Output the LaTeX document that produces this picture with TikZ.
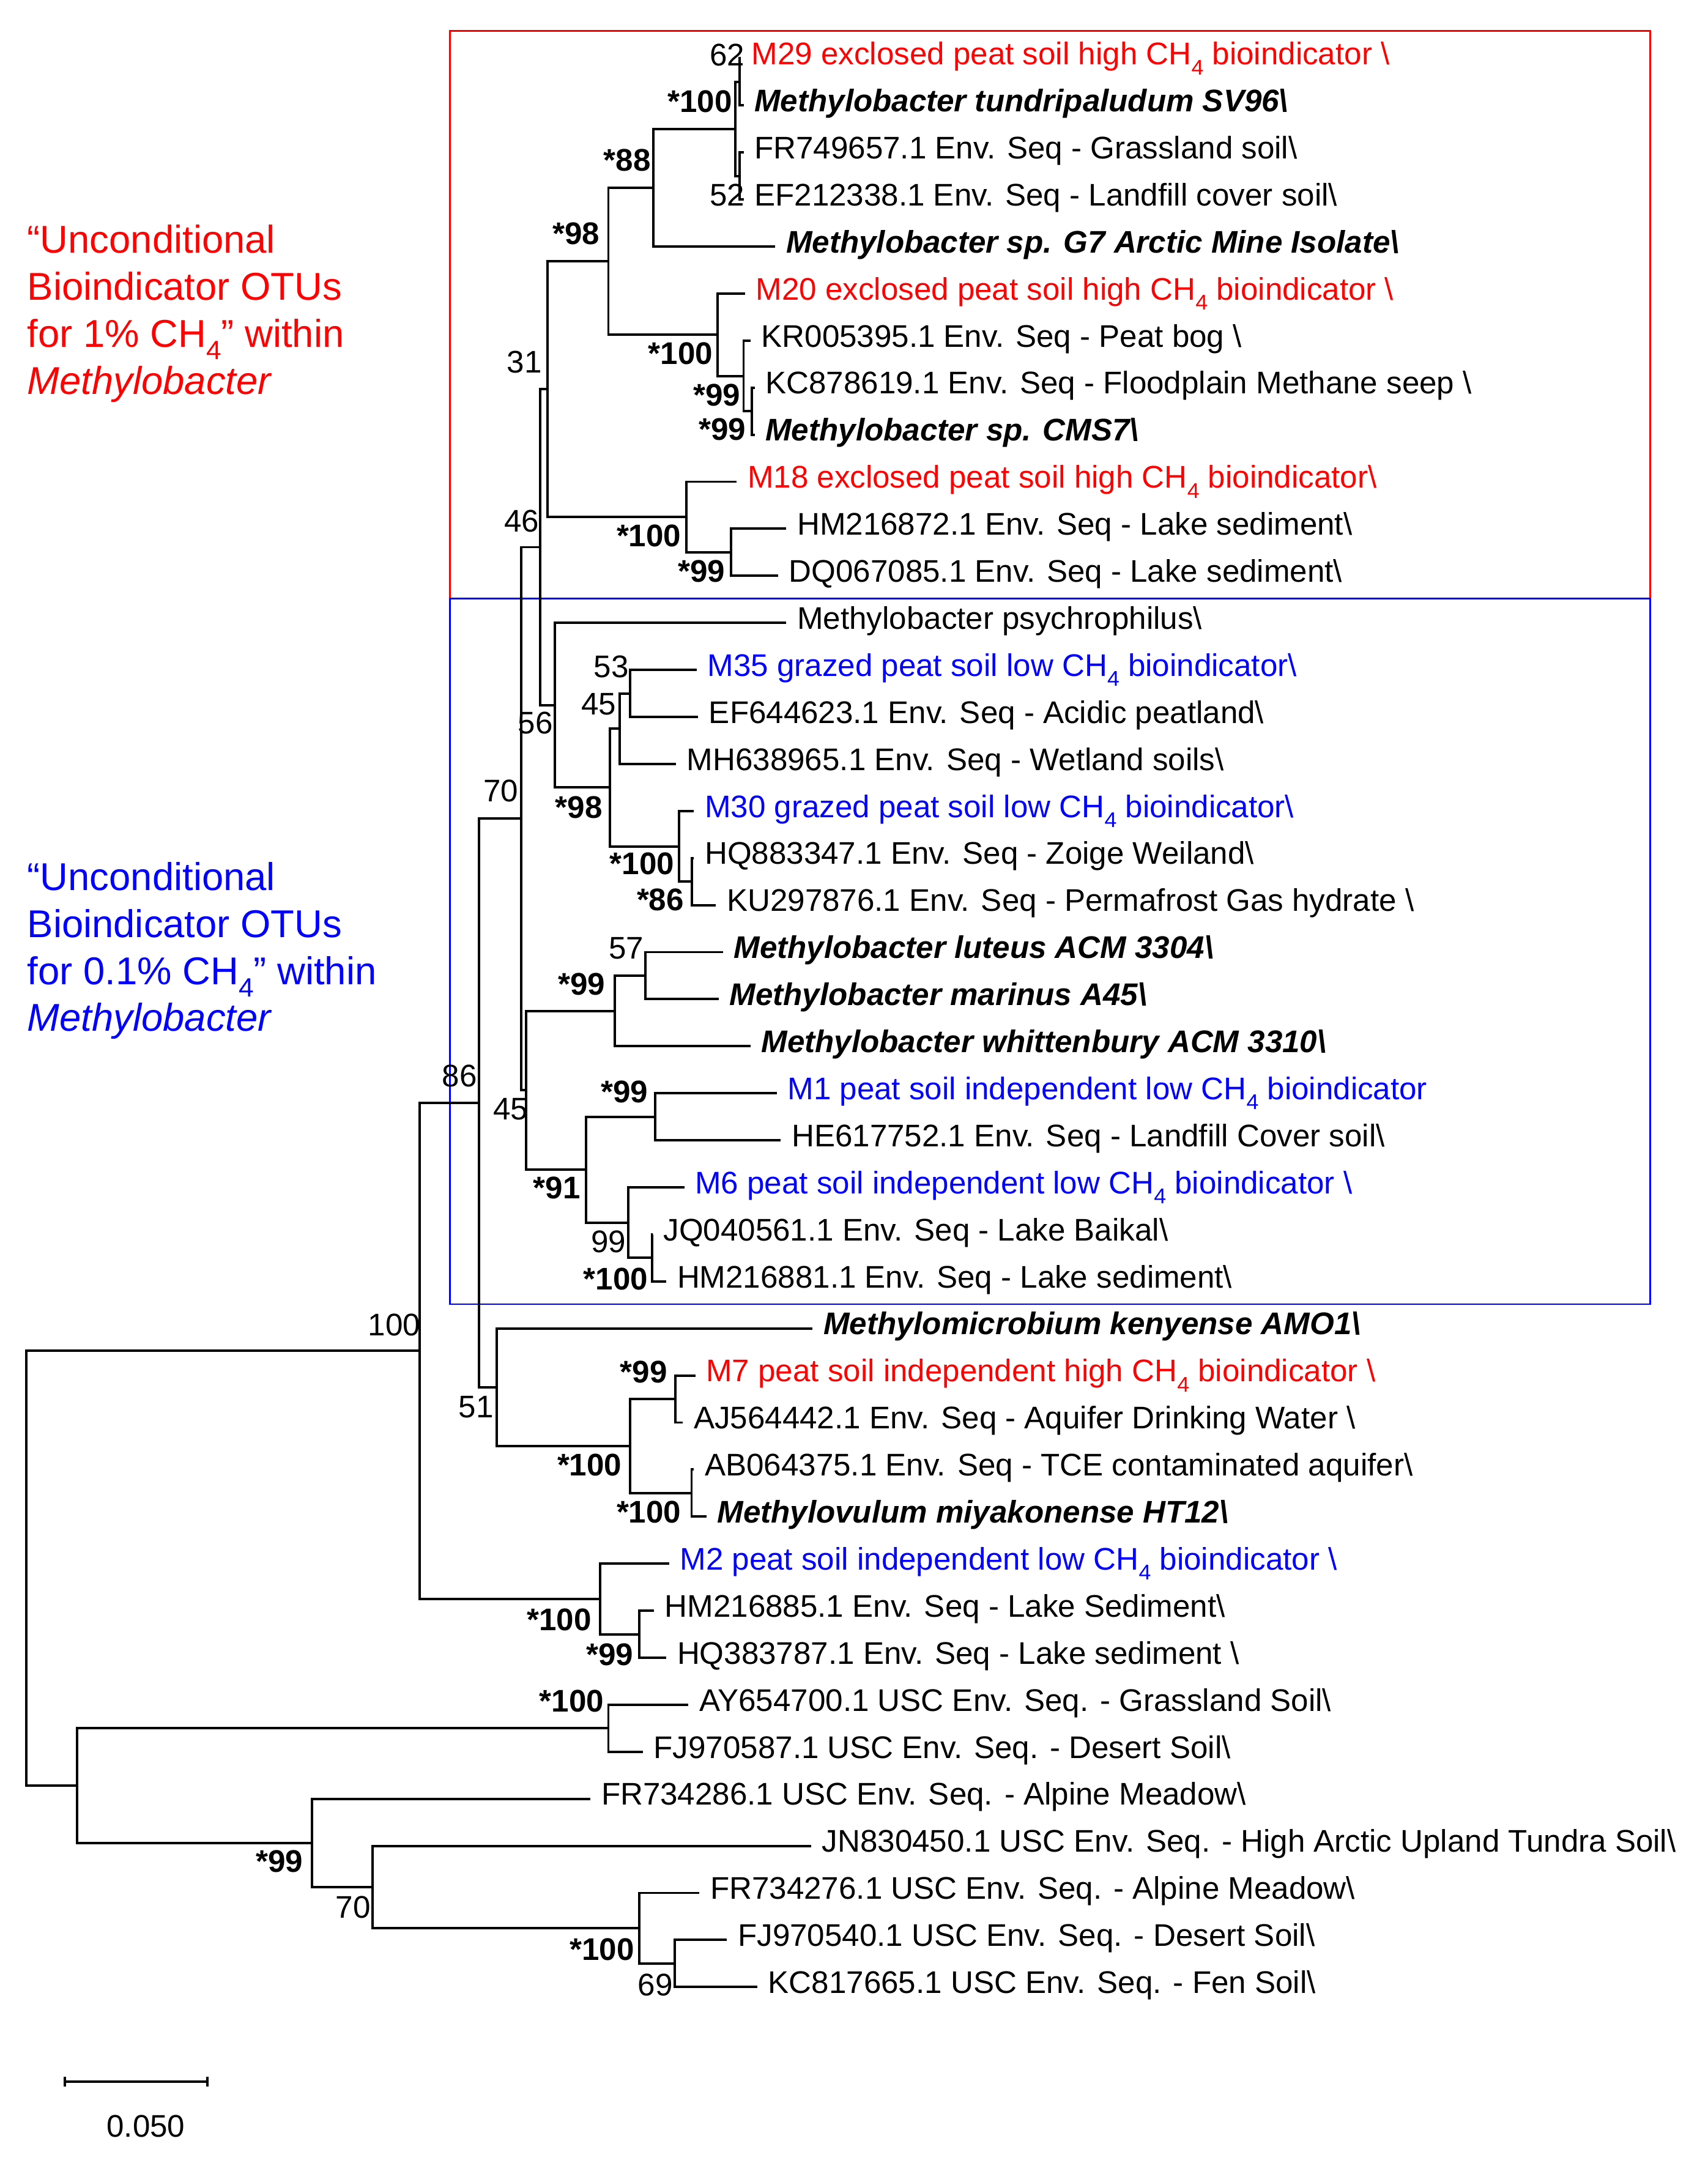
\documentclass[tikz,border=0pt]{standalone}
\usepackage{fontspec}
\usepackage{graphicx}
\setmainfont{Liberation Sans}
\usetikzlibrary{calc}

\definecolor{hiCH}{RGB}{255,0,0}
\definecolor{loCH}{RGB}{0,0,255}
\newcommand{\tipfont}{\fontsize{12.9}{15}\selectfont}
\newcommand{\notefont}{\fontsize{16}{19.4}\selectfont}
\newcommand{\CHf}{CH\raisebox{-0.32em}{\scalebox{0.7}[0.68]{4}}}
\newcommand{\bksl}{\textbackslash}
\newcommand{\hiOTU}[1]{\textcolor{hiCH}{#1}}
\newcommand{\loOTU}[1]{\textcolor{loCH}{#1}}
\newcommand{\spc}[1]{{\bfseries\itshape #1}}

\begin{document}
\begin{tikzpicture}[x=0.02cm, y=-0.02cm,
    branch/.style={line width=1pt},
    leaf/.style={anchor=west, inner xsep=4.3pt, inner ysep=0pt, text height=8.6pt, text depth=3.4pt, font=\tipfont},
    boot/.style={anchor=east, inner sep=0pt, text height=9.2pt, text depth=0pt, font=\tipfont},
    note/.style={anchor=north west, inner sep=0pt, align=left, font=\notefont}]
    \useasboundingbox (0,0) rectangle (1238,1568);
    % boxes round the bioindicator groups
    \draw[hiCH, line width=0.75pt] (326,22.6) rectangle (1196,433.8);
    \draw[loCH, line width=0.75pt] (326,433.8) rectangle (1196,945.4);
    % tips
    \foreach \i/\x/\t in {
        0/537/{\hiOTU{M29 exclosed peat soil high \CHf{} bioindicator \bksl}},
        1/539/{\spc{Methylobacter tundripaludum SV96\bksl}},
        2/539/{FR749657.1 Env. Seq - Grassland soil\bksl},
        3/539/{EF212338.1 Env. Seq - Landfill cover soil\bksl},
        4/562/{\spc{Methylobacter sp. G7 Arctic Mine Isolate\bksl}},
        5/540/{\hiOTU{M20 exclosed peat soil high \CHf{} bioindicator \bksl}},
        6/544/{KR005395.1 Env. Seq - Peat bog \bksl},
        7/547/{KC878619.1 Env. Seq - Floodplain Methane seep \bksl},
        8/547/{\spc{Methylobacter sp. CMS7\bksl}},
        9/534/{\hiOTU{M18 exclosed peat soil high \CHf{} bioindicator\bksl}},
        10/570/{HM216872.1 Env. Seq - Lake sediment\bksl},
        11/564/{DQ067085.1 Env. Seq - Lake sediment\bksl},
        12/570/{Methylobacter psychrophilus\bksl},
        13/505/{\loOTU{M35 grazed peat soil low \CHf{} bioindicator\bksl}},
        14/506/{EF644623.1 Env. Seq - Acidic peatland\bksl},
        15/490/{MH638965.1 Env. Seq - Wetland soils\bksl},
        16/503/{\loOTU{M30 grazed peat soil low \CHf{} bioindicator\bksl}},
        17/503/{HQ883347.1 Env. Seq - Zoige Weiland\bksl},
        18/519/{KU297876.1 Env. Seq - Permafrost Gas hydrate \bksl},
        19/524/{\spc{Methylobacter luteus ACM 3304\bksl}},
        20/521/{\spc{Methylobacter marinus A45\bksl}},
        21/544/{\spc{Methylobacter whittenbury ACM 3310\bksl}},
        22/563/{\loOTU{M1 peat soil independent low \CHf{} bioindicator}},
        23/566/{HE617752.1 Env. Seq - Landfill Cover soil\bksl},
        24/496/{\loOTU{M6 peat soil independent low \CHf{} bioindicator \bksl}},
        25/473/{JQ040561.1 Env. Seq - Lake Baikal\bksl},
        26/483/{HM216881.1 Env. Seq - Lake sediment\bksl},
        27/589/{\spc{Methylomicrobium kenyense AMO1\bksl}},
        28/504/{\hiOTU{M7 peat soil independent high \CHf{} bioindicator \bksl}},
        29/495/{AJ564442.1 Env. Seq - Aquifer Drinking Water \bksl},
        30/503/{AB064375.1 Env. Seq - TCE contaminated aquifer\bksl},
        31/512/{\spc{Methylovulum miyakonense HT12\bksl}},
        32/485/{\loOTU{M2 peat soil independent low \CHf{} bioindicator \bksl}},
        33/474/{HM216885.1 Env. Seq - Lake Sediment\bksl},
        34/483/{HQ383787.1 Env. Seq - Lake sediment \bksl},
        35/499/{AY654700.1 USC Env. Seq. - Grassland Soil\bksl},
        36/466/{FJ970587.1 USC Env. Seq. - Desert Soil\bksl},
        37/428/{FR734286.1 USC Env. Seq. - Alpine Meadow\bksl},
        38/588/{JN830450.1 USC Env. Seq. - High Arctic Upland Tundra Soil\bksl},
        39/507/{FR734276.1 USC Env. Seq. - Alpine Meadow\bksl},
        40/527/{FJ970540.1 USC Env. Seq. - Desert Soil\bksl},
        41/549/{KC817665.1 USC Env. Seq. - Fen Soil\bksl}} {
        \node[leaf] (l\i) at (\x,{42.3+34.1*\i}) {\t};
    }
    % inner nodes of the tree
    \foreach \n/\x/\y in {nA/536/59.35, nC/536/127.55, nB/533/93.45, n88/473.6/136.1,
        nE/545/298.05, nD/539/272.5, nM20/520/242.65, n98/441/189.4,
        nF/530/400.35, nM18/497.5/374.8, n31/397/282.1,
        n53/456.8/502.65, n45b/449/528.2, n86b/501.4/639.05, nM30/492/613.5,
        n98b/442/570.85, n56/402.4/511.2, n46/391.5/396.65,
        n57/468/707.25, n99c/445.5/732.8, n99d/475/809.55, n100c/472.7/911.85,
        n99e/455.4/886.3, n91/425/847.9, n45/381.3/790.35, n70/378/593.5,
        nM7/489.5/1014.15, nAB/501.3/1082.35, n100d/456.7/1048.25, n51/360/1005.6,
        n86/347/799.55, n99f/463.5/1184.65, nM2/435/1159.1, n100/304/979.3,
        nAY/441/1252.85, n69/489.3/1423.35, nFR/463.5/1397.8, n70b/270/1367.95,
        n99g/226/1336, nOut/56/1294.4, root/19.2/1136.9} {
        \coordinate (\n) at (\x,\y);
    }
    % branches: upper child, node, lower child
    \foreach \a/\p/\b in {l0.west/nA/l1.west, l2.west/nC/l3.west, nA/nB/nC, nB/n88/l4.west,
        l7.west/nE/l8.west, l6.west/nD/nE, l5.west/nM20/nD, n88/n98/nM20,
        l10.west/nF/l11.west, l9.west/nM18/nF, n98/n31/nM18,
        l13.west/n53/l14.west, n53/n45b/l15.west, l17.west/n86b/l18.west,
        l16.west/nM30/n86b, n45b/n98b/nM30, l12.west/n56/n98b, n31/n46/n56,
        l19.west/n57/l20.west, n57/n99c/l21.west, l22.west/n99d/l23.west,
        l25.west/n100c/l26.west, l24.west/n99e/n100c, n99d/n91/n99e,
        n99c/n45/n91, n46/n70/n45,
        l28.west/nM7/l29.west, l30.west/nAB/l31.west, nM7/n100d/nAB,
        l27.west/n51/n100d, n70/n86/n51,
        l33.west/n99f/l34.west, l32.west/nM2/n99f, n86/n100/nM2,
        l35.west/nAY/l36.west, l40.west/n69/l41.west, l39.west/nFR/n69,
        l38.west/n70b/nFR, l37.west/n99g/n70b, nAY/nOut/n99g, n100/root/nOut} {
        \draw[branch] (\a) -| (\p) |- (\b);
    }
    % bootstrap values
    \foreach[count=\k] \x/\y/\t in {540/39.5/62, 540/141/52, 393/262/31, 391/377.5/46,
        456/483/53, 447/510/45, 401/524/56, 376/573/70, 467/687/57, 346/779.5/86,
        383/803.5/45, 454/900/99, 305/960/100, 358/1019.5/51, 488/1438.5/69,
        269/1382.5/70} {
        \node[boot] (bs\k) at (\x,\y) {\t};
    }
    \foreach[count=\k] \x/\y/\t in {531/73.5/*100, 472/116/*88, 435/169/*98,
        517/256/*100, 537/286/*99, 541/311/*99, 494/388/*100, 526/414/*99,
        437/585/*98, 489/626/*100, 496/652/*86, 439/713/*99, 470/791/*99,
        421/861/*91, 470/927/*100, 484/994.5/*99, 451/1061.7/*100,
        494/1095.8/*100, 429/1173.7/*100, 459.5/1199/*99, 438/1233/*100,
        460/1413/*100, 220/1349/*99} {
        \node[boot, font=\tipfont\bfseries] (bb\k) at (\x,\y) {\t};
    }
    % notes on the left
    \node[note, text=hiCH] (noteHi) at (19.5,162.6)
        {“Unconditional\\Bioindicator OTUs\\for 1\% \CHf” within\\\textit{Methylobacter}};
    \node[note, text=loCH] (noteLo) at (19.5,624.6)
        {“Unconditional\\Bioindicator OTUs\\for 0.1\% \CHf” within\\\textit{Methylobacter}};
    % scale bar
    \coordinate (sbL) at (47,1509);
    \coordinate (sbR) at (150.4,1509);
    \draw[branch] (sbL) -- (sbR);
    \draw[branch] (sbL) ++(0,-3.5) -- ++(0,7);
    \draw[branch] (sbR) ++(0,-3.5) -- ++(0,7);
    \node[boot, anchor=center] (sbT) at (105.7,1541) {0.050};
\end{tikzpicture}
\end{document}
